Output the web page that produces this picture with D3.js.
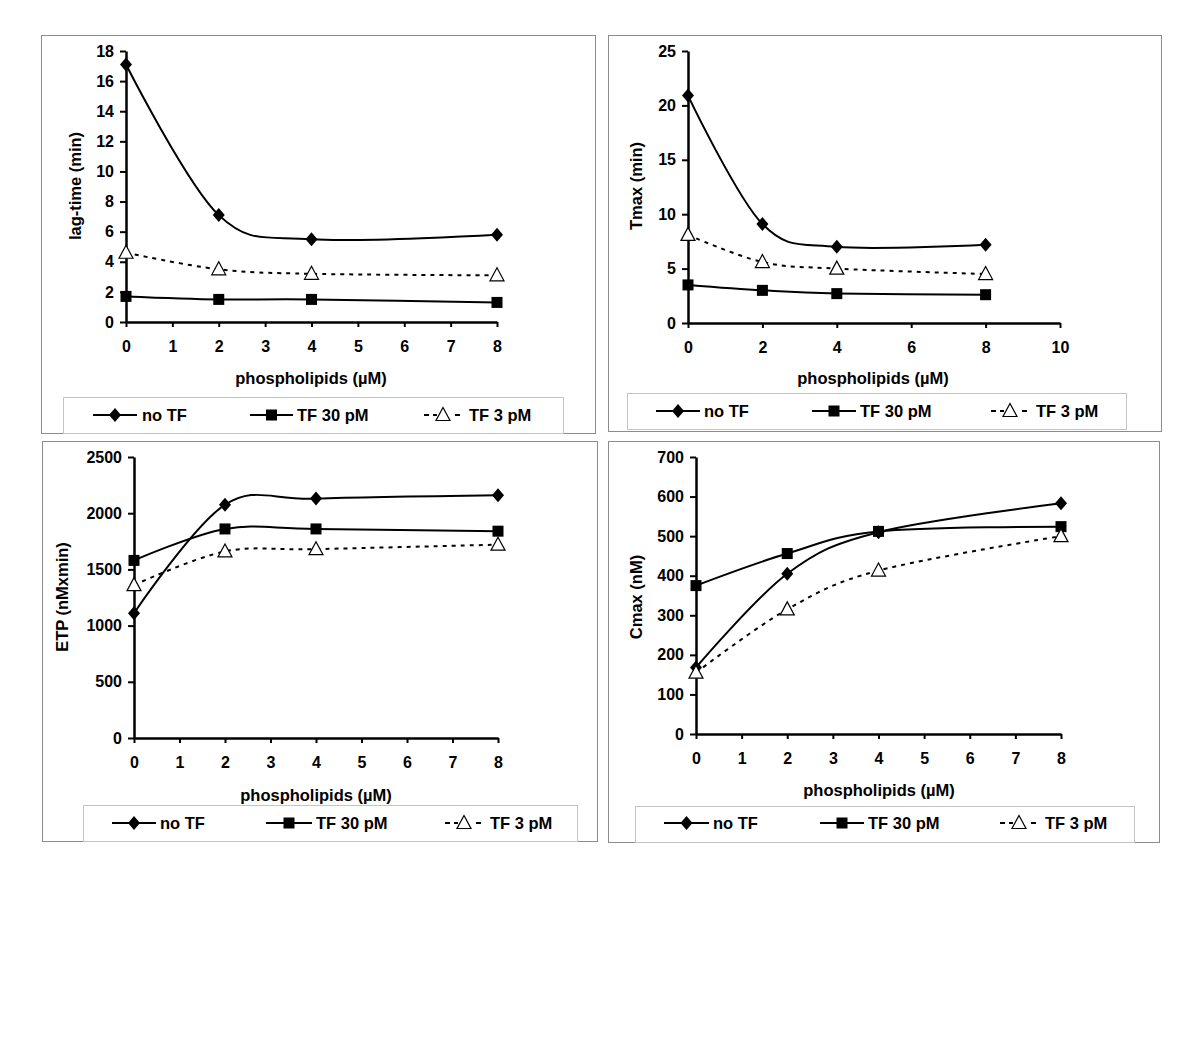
<!DOCTYPE html>
<html>
<head>
<meta charset="utf-8">
<script src="https://cdn.jsdelivr.net/npm/d3@7"></script>
<style>
  body { margin: 0; background: #fff; }
  svg { display: block; }
  text { font-family: "Liberation Sans", Arial, sans-serif; font-weight: bold; fill: #000; }
</style>
</head>
<body>
<svg id="chart" width="1200" height="1040"></svg>
<script>
// ---------- data ----------
const phospholipids = [0, 2, 4, 8];
const seriesNames = ["no TF", "TF 30 pM", "TF 3 pM"];

const lagNoTF   = [17.1, 7.1, 5.5, 5.8];
const lagTF30   = [1.7, 1.5, 1.5, 1.3];
const lagTF3    = [4.6, 3.5, 3.2, 3.1];

const tmaxNoTF  = [20.9, 9.1, 7.0, 7.2];
const tmaxTF30  = [3.5, 3.0, 2.7, 2.6];
const tmaxTF3   = [8.1, 5.6, 5.0, 4.5];

const etpNoTF   = [1110, 2075, 2130, 2160];
const etpTF30   = [1580, 1860, 1860, 1840];
const etpTF3    = [1360, 1660, 1680, 1720];

const cmaxNoTF  = [168, 405, 510, 583];
const cmaxTF30  = [375, 456, 512, 524];
const cmaxTF3   = [155, 315, 413, 500];

const lagYTicks  = [0, 2, 4, 6, 8, 10, 12, 14, 16, 18];
const tmaxYTicks = [0, 5, 10, 15, 20, 25];
const etpYTicks  = [0, 500, 1000, 1500, 2000, 2500];
const cmaxYTicks = [0, 100, 200, 300, 400, 500, 600, 700];
const xTicks8    = [0, 1, 2, 3, 4, 5, 6, 7, 8];
const xTicks10   = [0, 2, 4, 6, 8, 10];

const yTitles = ["lag-time (min)", "Tmax (min)", "ETP (nMxmin)", "Cmax (nM)"];
const xTitle = "phospholipids (µM)";

// ---------- layout (styling only) ----------
const panels = [
  { series: [lagNoTF, lagTF30, lagTF3], yTicks: lagYTicks, xTicks: xTicks8, xMax: 8, yMax: 18, yTitle: yTitles[0],
    frame: [41, 35, 595, 433], x0: 126, x1: 497, yTop: 51, yBot: 322,
    xTitleX: 311, xTitleY: 378, yTitleX: 75, yTitleY: 186,
    legend: [63, 397, 563, 433], legY: 415, leg: [[93, 137, 142], [250, 293, 297], [0, 0, 469]] },
  { series: [tmaxNoTF, tmaxTF30, tmaxTF3], yTicks: tmaxYTicks, xTicks: xTicks10, xMax: 10, yMax: 25, yTitle: yTitles[1],
    frame: [608, 35, 1161, 431], x0: 688, x1: 1060, yTop: 51, yBot: 323,
    xTitleX: 873, xTitleY: 378, yTitleX: 636, yTitleY: 186,
    legend: [627, 393, 1126, 429], legY: 411, leg: [[656, 700, 704], [812, 856, 860], [0, 0, 1036]] },
  { series: [etpNoTF, etpTF30, etpTF3], yTicks: etpYTicks, xTicks: xTicks8, xMax: 8, yMax: 2500, yTitle: yTitles[2],
    frame: [42, 441, 597, 841], x0: 134, x1: 498, yTop: 457, yBot: 738,
    xTitleX: 316, xTitleY: 795, yTitleX: 62, yTitleY: 597,
    legend: [83, 805, 577, 841], legY: 823, leg: [[112, 156, 160], [266, 312, 316], [0, 0, 490]] },
  { series: [cmaxNoTF, cmaxTF30, cmaxTF3], yTicks: cmaxYTicks, xTicks: xTicks8, xMax: 8, yMax: 700, yTitle: yTitles[3],
    frame: [608, 441, 1159, 842], x0: 696, x1: 1061, yTop: 457, yBot: 734,
    xTitleX: 879, xTitleY: 790, yTitleX: 636, yTitleY: 597,
    legend: [635, 806, 1134, 842], legY: 823, leg: [[664, 709, 713], [820, 864, 868], [0, 0, 1045]] }
];

const svg = d3.select("#chart");
const dash = "4,5";
const tickFont = "16px";
const labelFont = "16.5px";

function square(g, x, y) {
  g.append("rect").attr("x", x - 5.5).attr("y", y - 5.5).attr("width", 11).attr("height", 11).attr("fill", "#000");
}
function triangle(g, x, y) {
  g.append("path").attr("d", `M${x},${y - 7.5}L${x + 7},${y + 5.5}L${x - 7},${y + 5.5}Z`)
    .attr("fill", "#fff").attr("stroke", "#000").attr("stroke-width", 1.2);
}
function diamond(g, x, y) {
  g.append("path").attr("d", `M${x},${y - 7}L${x + 6},${y}L${x},${y + 7}L${x - 6},${y}Z`).attr("fill", "#000");
}

panels.forEach(p => {
  const g = svg.append("g");
  g.append("rect").attr("x", p.frame[0] + 0.5).attr("y", p.frame[1] + 0.5)
    .attr("width", p.frame[2] - p.frame[0]).attr("height", p.frame[3] - p.frame[1])
    .attr("fill", "none").attr("stroke", "#8c8c8c").attr("stroke-width", 1);

  const x = d3.scaleLinear().domain([0, p.xMax]).range([p.x0, p.x1]);
  const y = d3.scaleLinear().domain([0, p.yMax]).range([p.yBot, p.yTop]);

  const yAxis = g.append("g").attr("transform", `translate(${p.x0},0)`)
    .call(d3.axisLeft(y).tickValues(p.yTicks).tickSize(6).tickSizeOuter(0).tickPadding(6).tickFormat(d3.format("d")));
  const xAxis = g.append("g").attr("transform", `translate(0,${p.yBot})`)
    .call(d3.axisBottom(x).tickValues(p.xTicks).tickSize(5).tickSizeOuter(0).tickPadding(14).tickFormat(d3.format("d")));
  [yAxis, xAxis].forEach(a => {
    a.attr("font-size", null).attr("font-family", null);
    a.select(".domain").attr("stroke", "#000").attr("stroke-width", 2.5);
    a.selectAll(".tick line").attr("stroke", "#000").attr("stroke-width", 2);
    a.selectAll(".tick text").style("font-size", tickFont).style("font-weight", "bold")
      .style("font-family", "'Liberation Sans', Arial, sans-serif").attr("fill", "#000");
  });

  g.append("text").attr("x", p.xTitleX).attr("y", p.xTitleY).attr("text-anchor", "middle")
    .attr("dominant-baseline", "central").style("font-size", labelFont).text(xTitle);
  g.append("text").attr("transform", `translate(${p.yTitleX},${p.yTitleY}) rotate(-90)`)
    .attr("text-anchor", "middle").attr("dominant-baseline", "central").style("font-size", labelFont).text(p.yTitle);

  const line = d3.line().x((d, i) => x(phospholipids[i])).y(d => y(d)).curve(d3.curveCardinal.tension(0));
  p.series.forEach((vals, si) => {
    g.append("path").datum(vals).attr("d", line).attr("fill", "none").attr("stroke", "#000")
      .attr("stroke-width", 2).attr("stroke-dasharray", si === 2 ? dash : null);
  });
  p.series.forEach((vals, si) => {
    vals.forEach((v, i) => {
      const cx = x(phospholipids[i]), cy = y(v);
      if (si === 0) diamond(g, cx, cy); else if (si === 1) square(g, cx, cy); else triangle(g, cx, cy);
    });
  });

  // legend
  const L = p.legend;
  g.append("rect").attr("x", L[0] + 0.5).attr("y", L[1] + 0.5).attr("width", L[2] - L[0]).attr("height", L[3] - L[1])
    .attr("fill", "#fff").attr("stroke", "#c4c4c4").attr("stroke-width", 1);
  seriesNames.forEach((name, si) => {
    const [a, b, t] = p.leg[si];
    const cy = p.legY;
    if (si === 2) {
      [[t - 45, t - 40], [t - 36, t - 32], [t - 14, t - 9]].forEach(s => {
        g.append("line").attr("x1", s[0]).attr("x2", s[1]).attr("y1", cy).attr("y2", cy)
          .attr("stroke", "#000").attr("stroke-width", 2);
      });
      triangle(g, t - 26, cy);
    } else {
      g.append("line").attr("x1", a).attr("x2", b).attr("y1", cy).attr("y2", cy)
        .attr("stroke", "#000").attr("stroke-width", 2);
      if (si === 0) diamond(g, (a + b) / 2, cy); else square(g, (a + b) / 2, cy);
    }
    g.append("text").attr("x", t).attr("y", cy).attr("dominant-baseline", "central")
      .style("font-size", labelFont).text(name);
  });
});
</script>
</body>
</html>
